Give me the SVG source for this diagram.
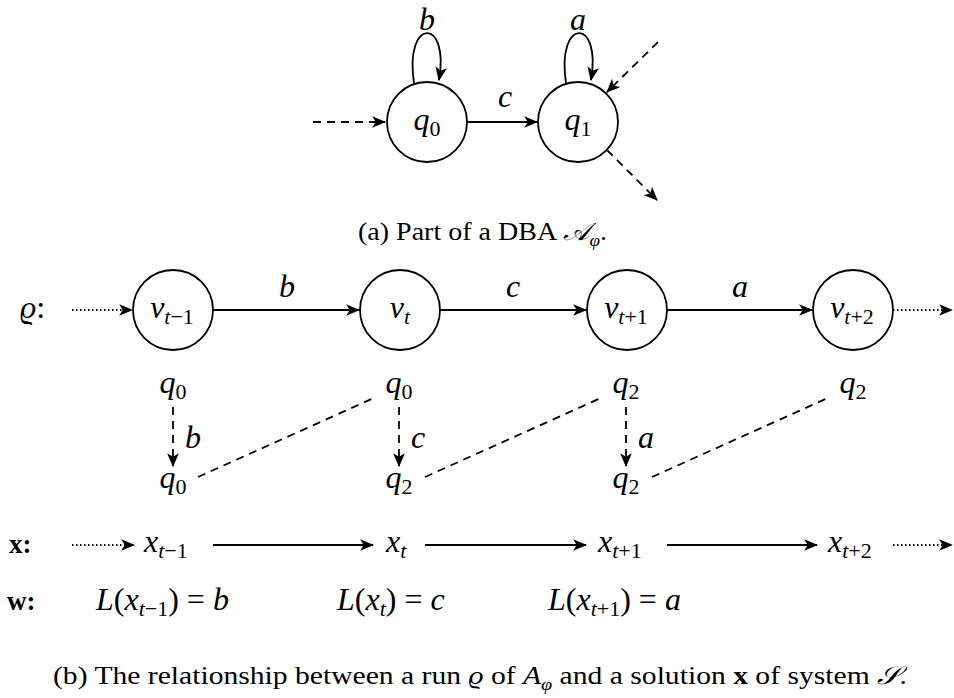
<svg xmlns="http://www.w3.org/2000/svg" width="954" height="698" viewBox="0 0 954 698">
<style>
.node{fill:#fff;stroke:#000;stroke-width:1.8}
.e{fill:none;stroke:#000;stroke-width:1.8}
.dash{stroke-dasharray:8,6}
.dot{stroke-dasharray:1.5,2.5}
.m{font-family:"Liberation Serif","DejaVu Serif",serif;font-style:italic;font-size:32px;fill:#000}
.s{font-size:22px;font-style:normal}
.si{font-size:22px}
.n{font-style:normal}
.cap{font-family:"Liberation Serif","DejaVu Serif",serif;font-size:25px;fill:#000}
.bold{font-family:"Liberation Serif",serif;font-weight:bold;font-size:27px}
</style>
<defs>
<marker id="ah" markerUnits="userSpaceOnUse" markerWidth="14" markerHeight="12" refX="11" refY="5" orient="auto" viewBox="0 0 12 10">
<path d="M0,0 L12,5 L0,10 L3,5 z" fill="#000"/>
</marker>
</defs>

<g id="connectors">
<path class="e dash" d="M313,122 L385,122" marker-end="url(#ah)"/>
<path class="e" d="M467,122 L537,122" marker-end="url(#ah)"/>
<path class="e" d="M414,83 C404,17 450,17 439,80" marker-end="url(#ah)"/>
<path class="e" d="M566,83 C556,17 602,17 591,80" marker-end="url(#ah)"/>
<path class="e dash" d="M658,42 L607,92" marker-end="url(#ah)"/>
<path class="e dash" d="M607,150 L657,200" marker-end="url(#ah)"/>
<path class="e dot" d="M72,310 L132,310" marker-end="url(#ah)"/>
<path class="e" d="M213,310 L359,310" marker-end="url(#ah)"/>
<path class="e" d="M440,310 L586,310" marker-end="url(#ah)"/>
<path class="e" d="M667,310 L812,310" marker-end="url(#ah)"/>
<path class="e dot" d="M893,310 L952,310" marker-end="url(#ah)"/>
<path class="e dash" d="M173,407 L173,466" marker-end="url(#ah)"/>
<path class="e dash" d="M399,407 L399,466" marker-end="url(#ah)"/>
<path class="e dash" d="M626,407 L626,466" marker-end="url(#ah)"/>
<path class="e dash" d="M198,477 L376,397"/>
<path class="e dash" d="M425,477 L603,397"/>
<path class="e dash" d="M652,477 L830,397"/>
<path class="e dot" d="M72,545 L134,545" marker-end="url(#ah)"/>
<path class="e" d="M213,545 L373,545" marker-end="url(#ah)"/>
<path class="e" d="M425,545 L586,545" marker-end="url(#ah)"/>
<path class="e" d="M667,545 L817,545" marker-end="url(#ah)"/>
<path class="e dot" d="M893,545 L952,545" marker-end="url(#ah)"/>
</g>

<g id="q0top"><circle class="node" cx="427" cy="122" r="40"/><text class="m" x="427" y="130" text-anchor="middle">q<tspan class="s" dy="6">0</tspan></text></g>
<g id="q1top"><circle class="node" cx="578" cy="122" r="40"/><text class="m" x="578" y="130" text-anchor="middle">q<tspan class="s" dy="6">1</tspan></text></g>
<g id="toplabels">
<text class="m" x="427" y="30" text-anchor="middle" font-size="27">b</text>
<text class="m" x="578" y="30" text-anchor="middle" font-size="27">a</text>
<text class="m" x="505" y="107" text-anchor="middle">c</text>
</g>
<text class="cap" x="358" y="240" textLength="249" lengthAdjust="spacingAndGlyphs">(a) Part of a DBA <tspan font-style="italic">𝒜</tspan><tspan font-style="italic" font-size="17" dy="6">φ</tspan><tspan dy="-6">.</tspan></text>

<text class="m" x="20" y="318">ϱ<tspan class="n">:</tspan></text>
<g id="v1"><circle class="node" cx="173" cy="310" r="40"/><text class="m" x="172" y="318" text-anchor="middle">v<tspan class="si" dy="6">t</tspan><tspan class="s">−1</tspan></text></g>
<g id="v2"><circle class="node" cx="400" cy="310" r="40"/><text class="m" x="400" y="318" text-anchor="middle">v<tspan class="si" dy="6">t</tspan></text></g>
<g id="v3"><circle class="node" cx="627" cy="310" r="40"/><text class="m" x="626" y="318" text-anchor="middle">v<tspan class="si" dy="6">t</tspan><tspan class="s">+1</tspan></text></g>
<g id="v4"><circle class="node" cx="853" cy="310" r="40"/><text class="m" x="852" y="318" text-anchor="middle">v<tspan class="si" dy="6">t</tspan><tspan class="s">+2</tspan></text></g>
<g id="runlabels">
<text class="m" x="287" y="297" text-anchor="middle">b</text>
<text class="m" x="513" y="297" text-anchor="middle">c</text>
<text class="m" x="740" y="297" text-anchor="middle">a</text>
</g>

<g id="qrow1">
<text class="m" x="173" y="393" text-anchor="middle">q<tspan class="s" dy="6">0</tspan></text>
<text class="m" x="399" y="393" text-anchor="middle">q<tspan class="s" dy="6">0</tspan></text>
<text class="m" x="626" y="393" text-anchor="middle">q<tspan class="s" dy="6">2</tspan></text>
<text class="m" x="853" y="393" text-anchor="middle">q<tspan class="s" dy="6">2</tspan></text>
</g>
<g id="qlabels">
<text class="m" x="185" y="448">b</text>
<text class="m" x="411" y="448">c</text>
<text class="m" x="638" y="448">a</text>
</g>
<g id="qrow2">
<text class="m" x="173" y="488" text-anchor="middle">q<tspan class="s" dy="6">0</tspan></text>
<text class="m" x="399" y="488" text-anchor="middle">q<tspan class="s" dy="6">2</tspan></text>
<text class="m" x="626" y="488" text-anchor="middle">q<tspan class="s" dy="6">2</tspan></text>
</g>

<text class="bold" x="9" y="553">x:</text>
<g id="xrow">
<text class="m" x="144" y="552">x<tspan class="si" dy="6">t</tspan><tspan class="s">−1</tspan></text>
<text class="m" x="386" y="552">x<tspan class="si" dy="6">t</tspan></text>
<text class="m" x="598" y="552">x<tspan class="si" dy="6">t</tspan><tspan class="s">+1</tspan></text>
<text class="m" x="828" y="552">x<tspan class="si" dy="6">t</tspan><tspan class="s">+2</tspan></text>
</g>
<text class="bold" x="7" y="610">w:</text>
<g id="wrow">
<text class="m" x="96" y="610">L<tspan class="n">(</tspan>x<tspan class="si" dy="6">t</tspan><tspan class="s">−1</tspan><tspan class="n" dy="-6">) = </tspan>b</text>
<text class="m" x="337" y="610">L<tspan class="n">(</tspan>x<tspan class="si" dy="6">t</tspan><tspan class="n" dy="-6">) = </tspan>c</text>
<text class="m" x="548" y="610">L<tspan class="n">(</tspan>x<tspan class="si" dy="6">t</tspan><tspan class="s">+1</tspan><tspan class="n" dy="-6">) = </tspan>a</text>
</g>

<text class="cap" x="53" y="684" textLength="854" lengthAdjust="spacingAndGlyphs">(b) The relationship between a run <tspan font-style="italic">ϱ</tspan> of <tspan font-style="italic">A</tspan><tspan font-style="italic" font-size="17" dy="6">φ</tspan><tspan dy="-6"> and a solution </tspan><tspan font-weight="bold">x</tspan> of system <tspan font-style="italic">𝒮</tspan>.</text>
</svg>
